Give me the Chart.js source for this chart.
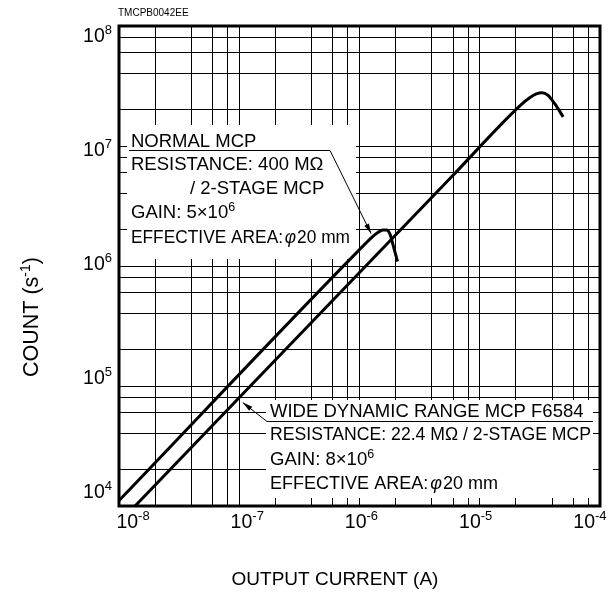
<!DOCTYPE html>
<html>
<head>
<meta charset="utf-8">
<script src="https://cdn.jsdelivr.net/npm/chart.js@4.4.0/dist/chart.umd.min.js"></script>
<style>
  html, body { margin: 0; padding: 0; background: #fff; }
</style>
</head>
<body>
<canvas id="chart" width="613" height="596"></canvas>
<script>
// Normal MCP: 400 MΩ / 2-stage, gain 5x10^6
const normalCurrent = [1e-8, 1e-6, 1.28e-6, 1.42e-6, 1.56e-6, 1.68e-6, 1.79e-6, 1.9e-6, 2.07e-6];
const normalCount = [1.11e4, 1.37e6, 1.75e6, 1.9e6, 2.0e6, 2.0e6, 1.85e6, 1.5e6, 1.09e6];

// Wide dynamic range MCP F6584: 22.4 MΩ / 2-stage, gain 8x10^6
const wideCurrent = [1.36e-8, 5.73e-6, 2.2e-5, 2.6e-5, 2.95e-5, 3.3e-5, 3.7e-5, 4.2e-5, 4.94e-5];
const wideCount = [1e4, 5.43e6, 2.2e7, 2.52e7, 2.72e7, 2.78e7, 2.64e7, 2.25e7, 1.75e7];

// axis decades and their exponents
const xDecades = [1e-8, 1e-7, 1e-6, 1e-5, 1e-4];
const xExponents = ['-8', '-7', '-6', '-5', '-4'];
const yDecades = [1e4, 1e5, 1e6, 1e7, 1e8];
const yExponents = ['4', '5', '6', '7', '8'];
const gridSteps = [1, 2, 4, 6, 8];

const FONT = '"Liberation Sans", Arial, Helvetica, sans-serif';

function gridValues(decades) {
    let values = [];
    decades.slice(0, -1).forEach(d => {
        gridSteps.forEach(s => values.push(s * d));
    });
    values.push(decades[decades.length - 1]);
    return values;
}

function toPoints(xs, ys) {
    return xs.map((x, i) => ({ x: x, y: ys[i] }));
}

// draw a run of text pieces (for superscripts, italic phi ...),
// squeezed sideways when it would be wider than maxWidth
function drawRich(ctx, parts, x, y, align, maxWidth) {
    let width = 0;
    parts.forEach(p => {
        ctx.font = p.font;
        width += (p.pad || 0) + ctx.measureText(p.text).width;
    });
    let k = maxWidth && width > maxWidth ? maxWidth / width : 1;
    let start = x;
    if (align === 'right') start = x - width * k;
    if (align === 'center') start = x - width * k / 2;
    ctx.save();
    ctx.translate(start, y);
    ctx.scale(k, 1);
    let cx = 0;
    parts.forEach(p => {
        ctx.font = p.font;
        cx += p.pad || 0;
        ctx.fillText(p.text, cx, -(p.rise || 0));
        cx += ctx.measureText(p.text).width;
    });
    ctx.restore();
}

function big(text, pad) { return { text: text, font: '18.5px ' + FONT, pad: pad }; }
function sup(text) { return { text: text, font: '12.5px ' + FONT, rise: 7.5 }; }
function phi() { return { text: 'φ', font: 'italic 18.5px ' + FONT, pad: 2 }; }
function tick(text) { return { text: text, font: '19.5px ' + FONT }; }
function tickSup(text) { return { text: text, font: '13px ' + FONT, rise: 8 }; }

function arrow(ctx, x0, y0, x1, y1) {
    ctx.beginPath();
    ctx.moveTo(x0, y0);
    ctx.lineTo(x1, y1);
    ctx.stroke();
    let a = Math.atan2(y1 - y0, x1 - x0);
    let len = 10, half = 2.6;
    ctx.beginPath();
    ctx.moveTo(x1, y1);
    ctx.lineTo(x1 - len * Math.cos(a) + half * Math.sin(a), y1 - len * Math.sin(a) - half * Math.cos(a));
    ctx.lineTo(x1 - len * Math.cos(a) - half * Math.sin(a), y1 - len * Math.sin(a) + half * Math.cos(a));
    ctx.closePath();
    ctx.fill();
}

const decor = {
    id: 'decor',
    beforeDatasetsDraw(chart) {
        const ctx = chart.ctx;
        const ca = chart.chartArea;
        ctx.save();
        ctx.fillStyle = '#fff';
        // label boxes sit over the grid, leaving the short ticks at the frame
        ctx.fillRect(ca.left + 8, ca.top + 99, 229, 134);
        ctx.fillRect(ca.left + 147, ca.top + 374, 327, 98);
        ctx.restore();
    },
    afterDatasetsDraw(chart) {
        const ctx = chart.ctx;
        const ca = chart.chartArea;
        const xs = chart.scales.x;
        const ys = chart.scales.y;
        ctx.save();
        ctx.fillStyle = '#000';
        ctx.strokeStyle = '#000';

        // frame
        ctx.lineWidth = 3;
        ctx.strokeRect(ca.left, ca.top, ca.right - ca.left, ca.bottom - ca.top);

        // tick labels
        ctx.textBaseline = 'alphabetic';
        xDecades.forEach((v, i) => {
            let px = xs.getPixelForValue(v);
            let cx = ca.left + 14 + (px - ca.left) * 0.95;
            drawRich(ctx, [tick('10'), tickSup(xExponents[i])], cx, ca.bottom + 22, 'center');
        });
        yDecades.forEach((v, i) => {
            let py = ys.getPixelForValue(v);
            let cy = ca.top + 9 + (py - ca.top) * 0.95;
            drawRich(ctx, [tick('10'), tickSup(yExponents[i])], ca.left - 7, cy + 7, 'right');
        });

        // axis titles
        drawRich(ctx, [{ text: 'OUTPUT CURRENT (A)', font: '19px ' + FONT }], 335, 585, 'center');
        ctx.save();
        ctx.translate(38, 317);
        ctx.rotate(-Math.PI / 2);
        drawRich(ctx, [
            { text: 'COUNT (s', font: '21.5px ' + FONT },
            { text: '-1', font: '14px ' + FONT, rise: 8 },
            { text: ')', font: '21.5px ' + FONT }
        ], 0, 0, 'center');
        ctx.restore();

        ctx.font = '10px ' + FONT;
        ctx.fillText('TMCPB0042EE', ca.left - 1, 16);

        // normal MCP note
        let nx = ca.left + 12;
        let ny = ca.top;
        drawRich(ctx, [big('NORMAL MCP')], nx, ny + 120.5, 'left');
        drawRich(ctx, [big('RESISTANCE: 400 MΩ')], nx, ny + 144, 'left');
        drawRich(ctx, [big('/ 2-STAGE MCP')], nx + 59, ny + 168, 'left');
        drawRich(ctx, [big('GAIN: 5×10'), sup('6')], nx, ny + 192, 'left');
        drawRich(ctx, [big('EFFECTIVE AREA:'), phi(), big('20 mm', 1)], nx, ny + 216.5, 'left', 219);

        // wide dynamic range note
        let wx = ca.left + 151;
        let wy = ca.top;
        drawRich(ctx, [big('WIDE DYNAMIC RANGE MCP F6584')], wx, wy + 390.5, 'left');
        drawRich(ctx, [big('RESISTANCE: 22.4 MΩ / 2-STAGE MCP')], wx, wy + 414, 'left', 321);
        drawRich(ctx, [big('GAIN: 8×10'), sup('6')], wx, wy + 439, 'left');
        drawRich(ctx, [big('EFFECTIVE AREA:'), phi(), big('20 mm', 1)], wx, wy + 463, 'left', 228);

        // underlines and leader arrows
        ctx.lineWidth = 1;
        ctx.beginPath();
        ctx.moveTo(ca.left + 10, ca.top + 124.5);
        ctx.lineTo(ca.left + 211, ca.top + 124.5);
        ctx.stroke();
        arrow(ctx, ca.left + 211, ca.top + 124.5, xs.getPixelForValue(1.4e-6) - 6, ys.getPixelForValue(1.9e6) + 1);

        ctx.beginPath();
        ctx.moveTo(ca.right - 7, ca.top + 395.5);
        ctx.lineTo(ca.left + 148, ca.top + 395.5);
        ctx.stroke();
        arrow(ctx, ca.left + 148, ca.top + 395.5, xs.getPixelForValue(1.05e-7) + 1, ys.getPixelForValue(7.7e4) + 3);

        ctx.restore();
    }
};

function logScale(min, max, decades) {
    return {
        type: 'logarithmic',
        min: min,
        max: max,
        afterBuildTicks: scale => {
            scale.ticks = gridValues(decades).map(v => ({ value: v }));
        },
        ticks: { display: false },
        grid: { color: '#000', lineWidth: 1, drawTicks: false },
        border: { display: false },
        title: { display: false }
    };
}

new Chart(document.getElementById('chart').getContext('2d'), {
    type: 'scatter',
    data: {
        datasets: [
            {
                label: 'NORMAL MCP',
                data: toPoints(normalCurrent, normalCount),
                showLine: true,
                borderColor: '#000',
                borderWidth: 3,
                pointRadius: 0,
                cubicInterpolationMode: 'monotone'
            },
            {
                label: 'WIDE DYNAMIC RANGE MCP F6584',
                data: toPoints(wideCurrent, wideCount),
                showLine: true,
                borderColor: '#000',
                borderWidth: 3,
                pointRadius: 0,
                cubicInterpolationMode: 'monotone'
            }
        ]
    },
    options: {
        responsive: false,
        animation: false,
        events: [],
        layout: { padding: { left: 119, right: 13, top: 26, bottom: 90 } },
        plugins: {
            legend: { display: false },
            tooltip: { enabled: false }
        },
        scales: {
            x: logScale(1e-8, 1e-4, xDecades),
            y: logScale(1e4, 1e8, yDecades)
        }
    },
    plugins: [decor]
});
</script>
</body>
</html>
